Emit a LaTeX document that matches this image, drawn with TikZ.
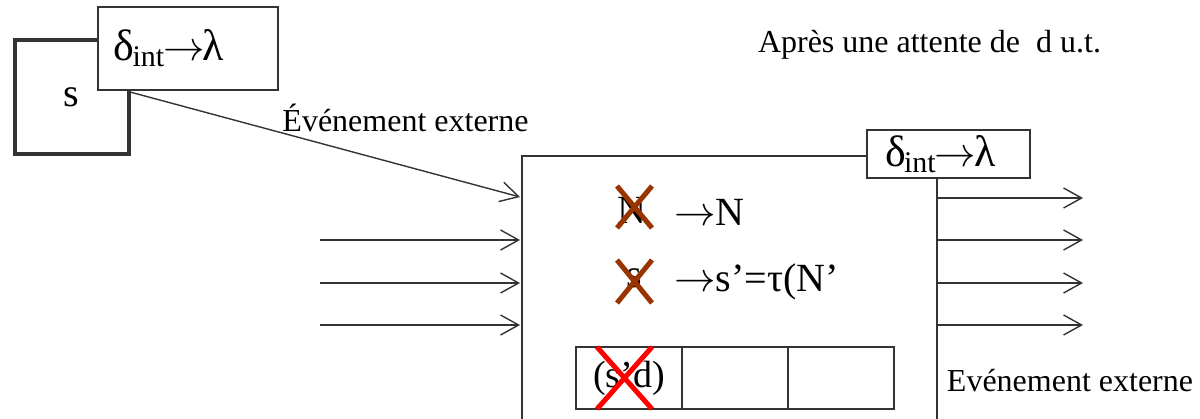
\documentclass[tikz,border=0pt]{standalone}
\usepackage{fontspec}
\setmainfont{Liberation Serif}
\usetikzlibrary{arrows.meta, positioning}
\definecolor{lineclr}{HTML}{333333}
\definecolor{crossbrown}{HTML}{993300}
\definecolor{crossred}{HTML}{FF0000}
\tikzset{
  statebox/.style = {rectangle, draw=lineclr, line width=2pt, fill=white,
                     inner sep=0pt, font=\fontsize{20}{22}\selectfont},
  fnbox/.style    = {rectangle, draw=lineclr, line width=0.65pt, fill=white,
                     inner sep=0pt, font=\fontsize{22}{24}\selectfont},
  cell/.style     = {rectangle, draw=lineclr, line width=0.9pt, fill=white,
                     minimum width=53pt, minimum height=31pt, inner sep=0pt,
                     font=\fontsize{19}{21}\selectfont},
  bigtxt/.style   = {inner sep=0pt, font=\fontsize{20}{22}\selectfont},
  lbl/.style      = {inner sep=0pt, font=\fontsize{16}{18}\selectfont},
  boxline/.style  = {draw=lineclr, line width=0.75pt},
  evt/.style      = {-{Straight Barb[length=9pt, width=10pt]}, draw=lineclr, line width=0.7pt},
  xbrown/.style   = {draw=crossbrown, line width=2.5pt},
  xred/.style     = {draw=crossred, line width=2.5pt},
}
\newcommand{\dintlambda}{δ\kern-1pt\textsubscript{\fontsize{15}{15}\selectfont int}\kern-1pt$\rightarrow$\kern-1ptλ}
\begin{document}
\begin{tikzpicture}[x=0.5pt, y=-0.5pt]
  \useasboundingbox (0,0) rectangle (1200,418);
  % model before the internal transition
  \node[statebox, minimum width=57pt, minimum height=57pt] (s0) at (71.5,97) {s};
  \node[fnbox, minimum width=90pt, minimum height=41.5pt] (f0) at (188,48.5) {\dintlambda\rule{19pt}{0pt}};
  \node[lbl] (delay) at (929.5,45) {Après une attente de~~d u.t.};
  \node[lbl] (extin) at (405.5,118) {Événement externe};
  % model after
  \draw[boxline] (867,156) -- (522,156) -- (522,420);
  \draw[boxline] (937,178) -- (937,420);
  \node[fnbox, minimum width=81.5pt, minimum height=24pt] (f1) at (948.5,154) {\dintlambda\rule{8pt}{0pt}};
  \coordinate (src) at (130,92);
  \coordinate (in0) at (520,197);
  \draw[evt] (src) -- (in0);
  \foreach \i/\y in {1/240,2/283,3/325}{
    \coordinate (src\i) at (320,\y);
    \coordinate (in\i) at (520,\y);
    \draw[evt] (src\i) -- (in\i);
  }
  \foreach \i/\y in {0/198,1/240,2/283,3/325}{
    \coordinate (bnd\i) at (937,\y);
    \coordinate (out\i) at (1083,\y);
    \draw[evt] (bnd\i) -- (out\i);
  }
  \node[lbl] (extout) at (1070,381) {Evénement externe};
  % state changes
  \node[bigtxt] (oldn) at (632,210) {N};
  \node[bigtxt, anchor=west] (newn) at (674,212) {$\rightarrow$N};
  \draw[xbrown] (617,186) -- (652,228) (652,186) -- (617,228);
  \node[bigtxt] (olds) at (634,278) {s};
  \node[bigtxt, anchor=west] (news) at (674,282) {$\rightarrow$s'=τ(N'};
  \draw[xbrown] (617,260) -- (652,303) (652,260) -- (617,303);
  % schedule
  \node[cell] (c1) at (629,378) {(s'd)};
  \node[cell] (c2) at (735,378) {};
  \node[cell] (c3) at (841,378) {};
  \draw[xred] (597,347) -- (652,409) (652,347) -- (597,409);
\end{tikzpicture}
\end{document}
